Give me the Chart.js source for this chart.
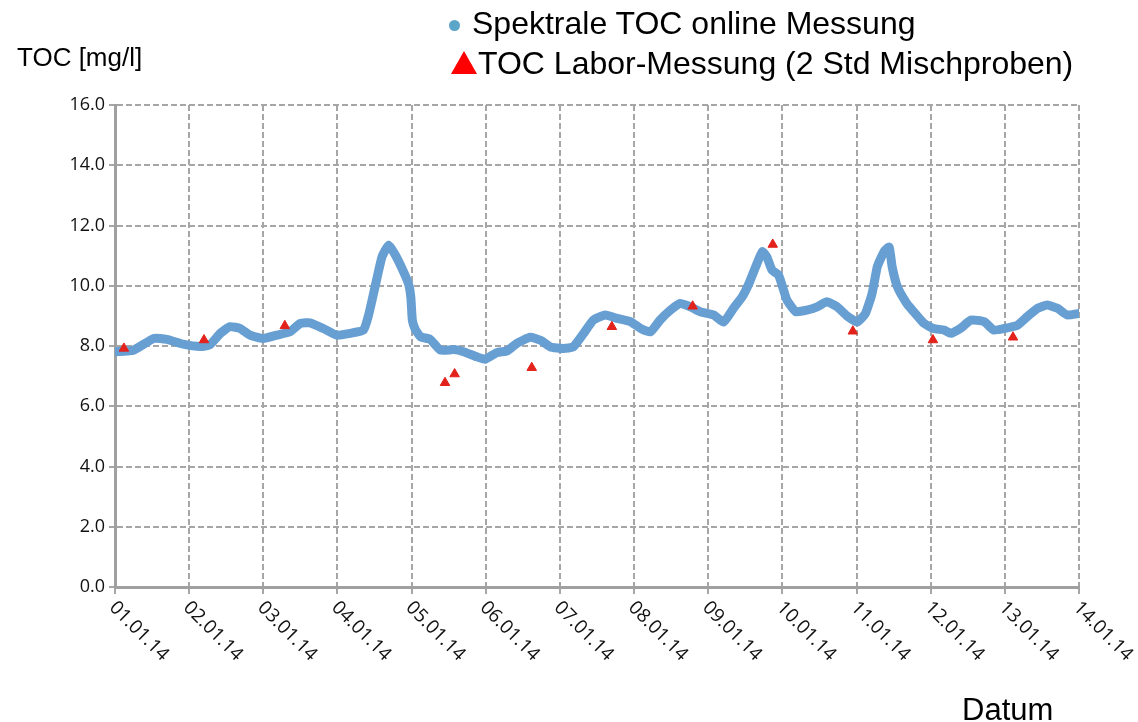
<!DOCTYPE html>
<html>
<head>
<meta charset="utf-8">
<script src="https://cdn.jsdelivr.net/npm/chart.js@4/dist/chart.umd.min.js"></script>
<style>
  html, body { margin: 0; padding: 0; background: #fff; }
  #wrap { position: relative; width: 1138px; height: 722px; overflow: hidden; }
  #chart { position: absolute; left: 0; top: 0; }
  .txt { position: absolute; font-family: "Liberation Sans", Arial, sans-serif; color: #000; line-height: 1; white-space: nowrap; }
  .dot { position: absolute; width: 11px; height: 11px; border-radius: 50%; background: #5aa5c8; }
  .tri { position: absolute; width: 0; height: 0; border-left: 13px solid transparent; border-right: 13px solid transparent; border-bottom: 23px solid #ff0000; }
</style>
</head>
<body>
<div id="wrap">
  <canvas id="chart" width="1138" height="722"></canvas>
  <div class="txt" style="left:17px; top:44px; font-size:26px;">TOC [mg/l]</div>
  <div class="dot" style="left:449px; top:20px;"></div>
  <div class="txt" style="left:472px; top:7px; font-size:32px;">Spektrale TOC online Messung</div>
  <div class="tri" style="left:451px; top:51px;"></div>
  <div class="txt" style="left:478px; top:47px; font-size:32px;">TOC Labor-Messung (2 Std Mischproben)</div>
  <div class="txt" style="left:962px; top:694px; font-size:31px;">Datum</div>
</div>
<script>
// x axis: days since 01.01.14
const dateLabels = ['01.01.14', '02.01.14', '03.01.14', '04.01.14', '05.01.14', '06.01.14', '07.01.14',
                    '08.01.14', '09.01.14', '10.01.14', '11.01.14', '12.01.14', '13.01.14', '14.01.14'];
const yTickValues = [0, 2, 4, 6, 8, 10, 12, 14, 16];

// spectral online TOC
const onlineDays = [0.00, 0.25, 0.52, 0.70, 0.92, 1.15, 1.28, 1.42, 1.55, 1.69, 1.82, 2.00, 2.18, 2.36, 2.50,
                    2.63, 2.81, 2.99, 3.17, 3.35, 3.42, 3.51, 3.60, 3.69, 3.78, 3.89, 3.96, 3.99, 4.01, 4.05,
                    4.12, 4.25, 4.39, 4.57, 4.70, 4.88, 4.99, 5.15, 5.29, 5.42, 5.60, 5.74, 5.87, 6.05, 6.18,
                    6.32, 6.45, 6.61, 6.77, 6.95, 7.09, 7.22, 7.35, 7.49, 7.62, 7.76, 7.89, 8.07, 8.21, 8.34,
                    8.46, 8.55, 8.64, 8.73, 8.79, 8.86, 8.95, 9.06, 9.18, 9.33, 9.47, 9.60, 9.74, 9.87, 10.01,
                    10.12, 10.21, 10.28, 10.37, 10.44, 10.48, 10.55, 10.68, 10.77, 10.91, 11.04, 11.18, 11.27, 11.40, 11.54,
                    11.72, 11.85, 11.99, 12.17, 12.30, 12.44, 12.57, 12.71, 12.84, 13.00];
const onlineToc = [7.81, 7.86, 8.25, 8.22, 8.06, 7.98, 8.04, 8.42, 8.64, 8.58, 8.36, 8.25, 8.36, 8.47, 8.75,
                   8.77, 8.58, 8.36, 8.42, 8.53, 9.03, 10.00, 10.95, 11.35, 11.02, 10.47, 10.05, 9.60, 8.85, 8.55,
                   8.31, 8.22, 7.86, 7.88, 7.81, 7.64, 7.56, 7.78, 7.84, 8.09, 8.29, 8.19, 7.97, 7.92, 7.97,
                   8.42, 8.86, 9.03, 8.92, 8.81, 8.58, 8.47, 8.86, 9.19, 9.41, 9.30, 9.14, 9.03, 8.80, 9.25,
                   9.64, 10.08, 10.63, 11.13, 10.96, 10.52, 10.35, 9.53, 9.14, 9.19, 9.30, 9.47, 9.30, 9.00, 8.80,
                   9.08, 9.75, 10.63, 11.13, 11.28, 10.63, 9.97, 9.40, 9.14, 8.75, 8.58, 8.53, 8.42, 8.58, 8.86,
                   8.81, 8.53, 8.58, 8.69, 8.97, 9.25, 9.36, 9.25, 9.03, 9.08];

// lab measurements (2 h composite samples)
const labDays = [0.12, 1.20, 2.29, 4.45, 4.58, 5.62, 6.70, 7.79, 8.87, 9.95, 11.03, 12.11];
const labToc  = [7.92, 8.20, 8.67, 6.78, 7.07, 7.28, 8.64, 9.32, 11.37, 8.49, 8.20, 8.29];

const gridGrey = '#a6a6a6';

// rotated date labels (text runs down to the right from each tick)
const dateLabelPlugin = {
    id: 'dateLabels',
    afterDraw(chart) {
        const xScale = chart.scales.x;
        const ctx = chart.ctx;
        ctx.save();
        ctx.font = '19px "Open Sans", sans-serif';
        ctx.fillStyle = '#111';
        ctx.textAlign = 'left';
        ctx.textBaseline = 'top';
        xScale.ticks.forEach(tick => {
            const label = dateLabels[Math.round(tick.value)];
            if (!label) return;
            const px = xScale.getPixelForValue(tick.value);
            ctx.save();
            ctx.translate(px - 1, xScale.top + 16);
            ctx.rotate(Math.PI / 4);
            ctx.fillText(label, 0, -7);
            ctx.restore();
        });
        ctx.restore();
    }
};

new Chart(document.getElementById('chart'), {
    data: {
        datasets: [
            {
                type: 'scatter',
                label: 'TOC Labor-Messung (2 Std Mischproben)',
                data: labDays.map((d, i) => ({ x: d, y: labToc[i] })),
                pointStyle: 'triangle',
                pointRadius: 5.5,
                backgroundColor: '#e3221c',
                borderColor: '#e3221c',
                borderWidth: 1
            },
            {
                type: 'line',
                label: 'Spektrale TOC online Messung',
                data: onlineDays.map((d, i) => ({ x: d, y: onlineToc[i] })),
                borderColor: '#689fd3',
                borderWidth: 9,
                borderJoinStyle: 'round',
                borderCapStyle: 'round',
                pointRadius: 0,
                tension: 0.15,
                fill: false
            }
        ]
    },
    plugins: [dateLabelPlugin],
    options: {
        responsive: false,
        animation: false,
        layout: { padding: { left: 0, top: 105, right: 59, bottom: 0 } },
        plugins: {
            legend: { display: false },
            tooltip: { enabled: false }
        },
        scales: {
            x: {
                type: 'linear',
                min: 0,
                max: 13,
                afterFit: s => { s.height = 135; },
                ticks: { stepSize: 1, display: false },
                grid: { color: gridGrey, lineWidth: 2, tickLength: 7, tickBorderDash: [], tickColor: gridGrey },
                border: { display: true, color: '#a0a0a0', width: 3, dash: [6, 3] }
            },
            y: {
                min: 0,
                max: 16,
                afterFit: s => { s.width = 115; },
                afterBuildTicks: s => { s.ticks = yTickValues.map(v => ({ value: v })); },
                ticks: {
                    color: '#111',
                    font: { family: '"Open Sans", sans-serif', size: 18 },
                    padding: 4,
                    callback: v => v.toFixed(1)
                },
                grid: { color: gridGrey, lineWidth: 2, tickLength: 6, tickBorderDash: [], tickColor: gridGrey },
                border: { display: true, color: '#a0a0a0', width: 3, dash: [6, 3] }
            }
        }
    }
});
</script>
</body>
</html>
